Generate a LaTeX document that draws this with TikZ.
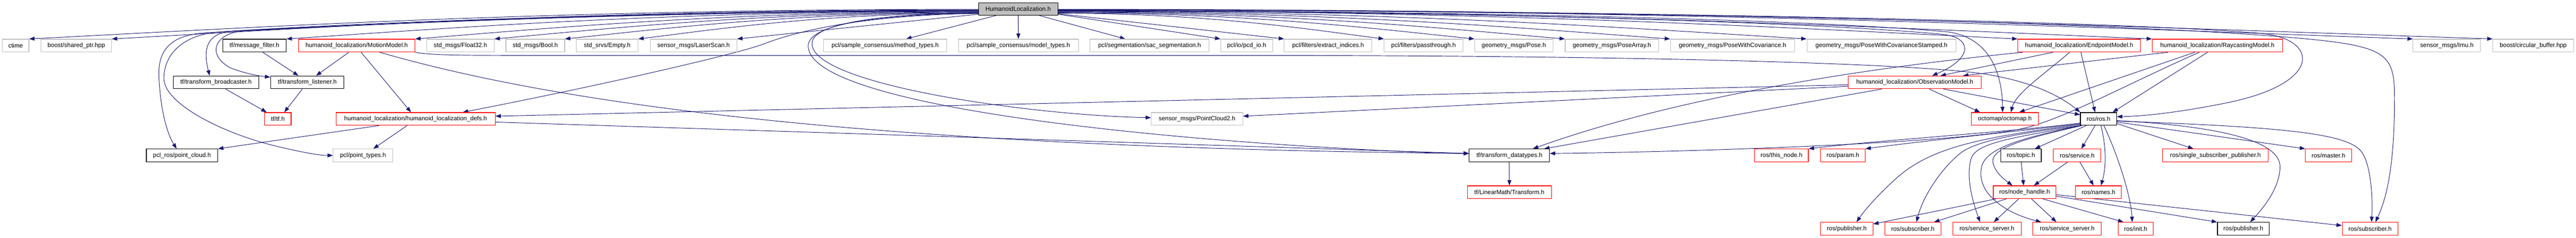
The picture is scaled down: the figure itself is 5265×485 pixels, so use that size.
\documentclass[tikz,border=0pt]{standalone}
\usepackage{fontspec}
\setmainfont{Liberation Sans}
\usetikzlibrary{arrows.meta}
\pgfdeclarelayer{background}
\pgfsetlayers{background,main}
\definecolor{edgeblue}{HTML}{191970}
\definecolor{greyb}{HTML}{BFBFBF}
\begin{document}
\begin{tikzpicture}[x=1pt,y=-1pt,
  box/.style={draw, rectangle, fill=white, minimum height=26pt, inner sep=0pt, line width=1.2pt, font=\fontsize{12.5}{15}\selectfont, text=black},
  gb/.style={box, draw=greyb},
  rb/.style={box, draw=red},
  kb/.style={box, draw=black},
  dep/.style={draw=edgeblue, line width=1pt, -{Triangle[length=11pt,width=8pt]}},
]
\useasboundingbox (0,0) rectangle (5265,485);
% ---------- nodes ----------
\node[kb, fill=greyb, minimum width=162pt, minimum height=25pt] (H) at (2081,18.5) {HumanoidLocalization.h};
% row 1
\node[gb, minimum width=54pt] (ctime) at (32,93) {ctime};
\node[gb, minimum width=144pt] (sharedptr) at (156,93) {boost/shared\_ptr.hpp};
\node[kb, minimum width=130pt] (msgfilter) at (520,93) {tf/message\_filter.h};
\node[rb, minimum width=238pt] (motion) at (729,93) {humanoid\_localization/MotionModel.h};
\node[gb, minimum width=138pt] (float32) at (941,93) {std\_msgs/Float32.h};
\node[gb, minimum width=120pt] (bool) at (1094,93) {std\_msgs/Bool.h};
\node[gb, minimum width=126pt] (empty) at (1241,93) {std\_srvs/Empty.h};
\node[gb, minimum width=177pt] (laserscan) at (1417.5,93) {sensor\_msgs/LaserScan.h};
\node[gb, minimum width=252pt] (method) at (1809,93) {pcl/sample\_consensus/method\_types.h};
\node[gb, minimum width=245pt] (model) at (2081.5,93) {pcl/sample\_consensus/model\_types.h};
\node[gb, minimum width=243pt] (sac) at (2349.5,93) {pcl/segmentation/sac\_segmentation.h};
\node[gb, minimum width=106pt] (pcdio) at (2548,93) {pcl/io/pcd\_io.h};
\node[gb, minimum width=179pt] (extract) at (2714.5,93) {pcl/filters/extract\_indices.h};
\node[gb, minimum width=161pt] (passthrough) at (2909.5,93) {pcl/filters/passthrough.h};
\node[gb, minimum width=160pt] (pose) at (3094,93) {geometry\_msgs/Pose.h};
\node[gb, minimum width=191pt] (posearray) at (3294.5,93) {geometry\_msgs/PoseArray.h};
\node[gb, minimum width=254pt] (posecov) at (3541,93) {geometry\_msgs/PoseWithCovariance.h};
\node[gb, minimum width=305pt] (posecovst) at (3845.5,93) {geometry\_msgs/PoseWithCovarianceStamped.h};
\node[rb, minimum width=251pt] (endpoint) at (4249.5,93) {humanoid\_localization/EndpointModel.h};
\node[rb, minimum width=266pt] (raycast) at (4532,93) {humanoid\_localization/RaycastingModel.h};
\node[gb, minimum width=138pt] (imu) at (5001,93) {sensor\_msgs/Imu.h};
\node[gb, minimum width=165pt] (circbuf) at (5177.5,93) {boost/circular\_buffer.hpp};
% row 2
\node[kb, minimum width=175pt] (broadcaster) at (441.5,168) {tf/transform\_broadcaster.h};
\node[kb, minimum width=150pt] (listener) at (628,168) {tf/transform\_listener.h};
\node[rb, minimum width=271pt] (obs) at (3913.5,168) {humanoid\_localization/ObservationModel.h};
% row 3
\node[rb, minimum width=54pt] (tf) at (568,242.5) {tf/tf.h};
\node[rb, minimum width=325pt] (defs) at (849.5,242.5) {humanoid\_localization/humanoid\_localization\_defs.h};
\node[gb, minimum width=187pt] (pc2) at (2446.5,242.5) {sensor\_msgs/PointCloud2.h};
\node[rb, minimum width=137pt] (octomap) at (4097.5,242.5) {octomap/octomap.h};
\node[kb, minimum width=74pt] (ros) at (4289,242.5) {ros/ros.h};
% row 4
\node[kb, minimum width=146pt] (pclros) at (372,317) {pcl\_ros/point\_cloud.h};
\node[gb, minimum width=122pt] (pointtypes) at (742,317) {pcl/point\_types.h};
\node[kb, minimum width=164pt] (datatypes) at (3085,317) {tf/transform\_datatypes.h};
\node[rb, minimum width=110pt] (thisnode) at (3641,317) {ros/this\_node.h};
\node[rb, minimum width=91pt] (param) at (3766.5,317) {ros/param.h};
\node[kb, minimum width=83pt] (topic) at (4130.5,317) {ros/topic.h};
\node[rb, minimum width=97pt] (service) at (4245.5,317) {ros/service.h};
\node[rb, minimum width=216pt] (ssp) at (4528,317) {ros/single\_subscriber\_publisher.h};
\node[rb, minimum width=94pt] (master) at (4759,317) {ros/master.h};
% row 5
\node[rb, minimum width=172pt] (transform) at (3085,392) {tf/LinearMath/Transform.h};
\node[rb, minimum width=128pt] (nh) at (4138,392) {ros/node\_handle.h};
\node[rb, minimum width=94pt] (names) at (4289,392) {ros/names.h};
% row 6
\node[rb, minimum width=107pt] (pubL) at (3774.5,466.5) {ros/publisher.h};
\node[rb, minimum width=115pt] (subL) at (3909.5,466.5) {ros/subscriber.h};
\node[rb, minimum width=140pt] (ss1) at (4061,466.5) {ros/service\_server.h};
\node[rb, minimum width=140pt] (ss2) at (4225,466.5) {ros/service\_server.h};
\node[rb, minimum width=72pt] (init) at (4365,466.5) {ros/init.h};
\node[kb, minimum width=106pt] (pubR) at (4585,466.5) {ros/publisher.h};
\node[rb, minimum width=114pt] (subR) at (4844,466.5) {ros/subscriber.h};

\begin{pgfonlayer}{background}
\fill[white] (0,0) rectangle (5265,485);
% ---------- H to row 1 ----------
\draw[dep] ([yshift=-0.5pt]H.west) .. controls (1107,19) and (505,56.8) .. (ctime.north east);
\draw[dep] ([yshift=-1.5pt]H.west) .. controls (1185,20) and (636,57.2) .. (sharedptr.north east);
\draw[dep] ([yshift=-4.5pt]H.west) .. controls (1349,23) and (910,58.3) .. (msgfilter.north east);
\draw[dep] ([yshift=-5.5pt]H.west) .. controls (1470,24) and (1113,58.7) .. (motion.north east);
\draw[dep] ([yshift=-6.5pt]H.west) .. controls (1545,25) and (1238,59.1) .. (float32.north east);
\draw[dep] ([yshift=-7.5pt]H.west) .. controls (1611,26) and (1349,59.5) .. (bool.north east);
\draw[dep] ([yshift=-8.5pt]H.west) .. controls (1680,27) and (1464,59.9) .. (empty.north east);
\draw[dep] ([yshift=-10.5pt]H.west) -- (laserscan.north east);
\draw[dep] ([xshift=-45pt]H.south) -- ([xshift=43pt]method.north);
\draw[dep] (H.south) -- (model.north);
\draw[dep] ([xshift=43pt]H.south) -- ([xshift=-49.5pt]sac.north);
\draw[dep] ([yshift=-10.5pt]H.east) -- (pcdio.north west);
\draw[dep] ([yshift=-9.5pt]H.east) -- (extract.north west);
\draw[dep] ([yshift=-8.5pt]H.east) .. controls (2469,27) and (2676,59.9) .. (passthrough.north west);
\draw[dep] ([yshift=-7.5pt]H.east) .. controls (2554,26) and (2818,59.5) .. (pose.north west);
\draw[dep] ([yshift=-6.5pt]H.east) .. controls (2639,25) and (2960,59.1) .. (posearray.north west);
\draw[dep] ([yshift=-5.5pt]H.east) .. controls (2738,24) and (3126,58.7) .. (posecov.north west);
\draw[dep] ([yshift=-4.5pt]H.east) .. controls (2866,23) and (3341,58.3) .. (posecovst.north west);
\draw[dep] ([yshift=-3.5pt]H.east) .. controls (3065,22) and (3673,58) .. (endpoint.north west);
\draw[dep] ([yshift=-3pt]H.east) .. controls (3191,21.5) and (3884,57.8) .. (raycast.north west);
\draw[dep] ([yshift=-1pt]H.east) .. controls (3436,19.5) and (4295,57) .. (imu.north west);
\draw[dep] ([yshift=-0.5pt]H.east) .. controls (3511,19) and (4420,56.8) .. (circbuf.north west);
% ---------- H long curves, left ----------
\draw[dep] ([yshift=-3.5pt]H.west) .. controls (1400,22) and (800,47) .. (480,63) .. controls (430,65.5) and (412,90) .. ([xshift=-13pt]broadcaster.north);
\draw[dep] ([yshift=-4pt]H.west) .. controls (1400,22.5) and (820,46) .. (500,63) .. controls (440,66.2) and (420,110) .. (470,138) .. controls (500,150) and (530,155) .. ([yshift=-3pt]listener.north west);
\draw[dep] ([yshift=-2.5pt]H.west) .. controls (1400,21) and (700,50) .. (420,67) .. controls (340,72) and (322,110) .. (325,160) .. controls (328,220) and (340,270) .. ([xshift=-11pt]pclros.north);
\draw[dep] ([yshift=-3pt]H.west) .. controls (1400,21.5) and (750,45) .. (450,65) .. controls (375,70) and (335,110) .. (335,160) .. controls (335,210) and (450,270) .. (560,297) .. controls (610,309) and (650,317) .. (pointtypes.west);
\draw[dep] ([yshift=-9pt]H.west) .. controls (1800,30) and (1650,55) .. (1560,90) .. controls (1515,107.5) and (1250,170) .. ([xshift=96.5pt]defs.north);
\draw[dep] ([yshift=-7.5pt]H.west) .. controls (1850,28) and (1670,40) .. (1660,85) .. controls (1645,170) and (2100,235) .. ([yshift=2.5pt]pc2.west);
\draw[dep] ([yshift=-8pt]H.west) .. controls (1840,29) and (1662,42) .. (1652,90) .. controls (1640,200) and (2200,270) .. (2700,300) .. controls (2850,309) and (2950,313) .. ([yshift=4pt]datatypes.west);
% ---------- H long curves, right ----------
\draw[dep] ([yshift=-4pt]H.east) .. controls (3000,22.5) and (3720,46) .. (3970,70) .. controls (4030,75.8) and (4035,118) .. ([xshift=35.5pt]obs.north);
\draw[dep] ([yshift=-3.5pt]H.east) .. controls (3000,22) and (3700,40) .. (3980,65) .. controls (4060,75) and (4092,140) .. ([xshift=-4.5pt]octomap.north);
\draw[dep] ([yshift=-1.5pt]H.east) .. controls (3200,20) and (4320,42) .. (4620,68) .. controls (4740,78.4) and (4750,170) .. (4550,210) .. controls (4450,230) and (4380,237) .. ([yshift=4.5pt]ros.east);
\draw[dep] ([yshift=-2pt]H.east) .. controls (3200,20.5) and (4300,42) .. (4700,78) .. controls (4880,94.2) and (4894,110) .. (4894,200) .. controls (4894,330) and (4880,400) .. ([xshift=11pt]subR.north);
% ---------- left cluster ----------
\draw[dep] ([xshift=17pt]msgfilter.south) -- ([xshift=-18pt]listener.north);
\draw[dep] ([xshift=-16pt]motion.south) -- ([xshift=18pt]listener.north);
\draw[dep] ([xshift=9pt]motion.south) -- ([xshift=-9.5pt]defs.north);
\draw[dep] ([xshift=47pt]motion.south) .. controls (1100,200) and (1700,300) .. ([yshift=4pt]datatypes.west);
\draw[dep] (motion.south east) .. controls (880,113) and (950,113) .. (1100,113) -- (2600,113) .. controls (3400,114) and (3900,130) .. (4050,150) .. controls (4150,165) and (4210,195) .. (ros.north west);
\draw[dep] ([xshift=19.5pt]broadcaster.south) -- ([xshift=-23pt]tf.north);
\draw[dep] ([xshift=-10pt]listener.south) -- ([xshift=13pt]tf.north);
\draw[dep] ([xshift=-74.5pt]defs.south) -- (pclros.north east);
\draw[dep] ([xshift=-17.5pt]defs.south) -- ([xshift=21pt]pointtypes.north);
\draw[dep] ([yshift=-6.5pt]defs.east) -- ([yshift=4pt]datatypes.west);
\draw[dep] (datatypes.south) -- (transform.north);
% ---------- observation / endpoint / raycasting ----------
\draw[dep] ([yshift=-5pt]obs.west) -- ([yshift=5.5pt]defs.east);
\draw[dep] ([yshift=-8pt]obs.west) -- ([yshift=5.5pt]pc2.east);
\draw[dep] ([xshift=-67.5pt]obs.south) -- ([xshift=71pt]datatypes.north);
\draw[dep] ([xshift=29.5pt]obs.south) -- ([xshift=-50.5pt]octomap.north);
\draw[dep] ([xshift=58.5pt]obs.south) -- ([yshift=8.5pt]ros.west);
\draw[dep] ([xshift=-53.5pt]endpoint.south) -- ([xshift=52.5pt]obs.north);
\draw[dep] ([xshift=-19.5pt]endpoint.south) .. controls (4180,150) and (4120,190) .. ([xshift=12.5pt]octomap.north);
\draw[dep] ([xshift=3.5pt]endpoint.south) -- ([xshift=-7pt]ros.north);
\draw[dep] ([xshift=-115.5pt]endpoint.south) .. controls (3850,135) and (3450,190) .. ([xshift=48pt]datatypes.north);
\draw[dep] ([xshift=-101pt]raycast.south) -- ([xshift=98.5pt]obs.north);
\draw[dep] ([xshift=-46pt]raycast.south) -- ([xshift=29.5pt]octomap.north);
\draw[dep] ([xshift=-37pt]raycast.south) .. controls (4340,175) and (4215,245) .. (4130,263) .. controls (3990,292.6) and (3450,310) .. ([yshift=4pt]datatypes.east);
\draw[dep] ([xshift=-20pt]raycast.south) -- ([xshift=29pt]ros.north);
% ---------- ros/ros.h ----------
\draw[dep] ([yshift=-8.5pt]ros.west) .. controls (4100,270) and (3850,285) .. (thisnode.north east);
\draw[dep] ([yshift=-10pt]ros.west) .. controls (4150,265) and (3950,285) .. (param.north east);
\draw[dep] ([yshift=-11.5pt]ros.west) .. controls (4050,280) and (3950,300) .. (3880,360) .. controls (3840,395) and (3810,430) .. ([xshift=20pt]pubL.north);
\draw[dep] (ros.south west) .. controls (4100,275) and (4040,290) .. (4010,310) .. controls (3970,340) and (3930,400) .. ([xshift=7.5pt]subL.north);
\draw[dep] ([xshift=1pt]ros.south west) .. controls (4120,280) and (4045,290) .. (4030,320) .. controls (4015,360) and (4035,420) .. ([xshift=-14pt]ss1.north);
\draw[dep] ([xshift=2pt]ros.south west) .. controls (4140,280) and (4060,300) .. (4050,340) .. controls (4038,395) and (4100,435) .. ([xshift=-53pt]ss2.north);
\draw[dep] ([xshift=4pt]ros.south west) .. controls (4150,280) and (4070,300) .. (4073,330) .. controls (4076,350) and (4095,365) .. ([xshift=-25pt]nh.north);
\draw[dep] ([xshift=-25pt]ros.south) -- ([xshift=28.5pt]topic.north);
\draw[dep] ([xshift=-7pt]ros.south) -- ([xshift=8.5pt]service.north);
\draw[dep] ([xshift=5pt]ros.south) .. controls (4305,300) and (4305,340) .. ([xshift=5pt]names.north);
\draw[dep] ([xshift=11pt]ros.south) .. controls (4330,320) and (4355,400) .. ([xshift=-7pt]init.north);
\draw[dep] ([yshift=-9.5pt]ros.east) -- ([xshift=-45pt]ssp.north);
\draw[dep] ([yshift=-6.5pt]ros.east) -- (master.north west);
\draw[dep] ([yshift=-3.5pt]ros.east) .. controls (4550,258) and (4660,290) .. (4660,340) .. controls (4660,380) and (4630,420) .. ([xshift=14pt]pubR.north);
\draw[dep] ([yshift=-4.5pt]ros.east) .. controls (4700,260) and (4810,275) .. (4830,315) .. controls (4845,341) and (4850,400) .. ([xshift=3pt]subR.north);
% ---------- topic / service / node_handle ----------
\draw[dep] ([xshift=0.5pt]topic.south) -- ([xshift=-2pt]nh.north);
\draw[dep] ([xshift=-19.5pt]service.south) -- ([xshift=19pt]nh.north);
\draw[dep] ([xshift=5.5pt]service.south) -- ([xshift=-10pt]names.north);
\draw[dep] ([xshift=-58pt]nh.south) -- ([yshift=-4pt]pubL.north east);
\draw[dep] ([xshift=-37pt]nh.south) -- ([xshift=43.5pt]subL.north);
\draw[dep] ([xshift=-12pt]nh.south) -- ([xshift=14pt]ss1.north);
\draw[dep] ([xshift=14pt]nh.south) -- ([xshift=-22pt]ss2.north);
\draw[dep] ([xshift=37pt]nh.south) -- ([xshift=-25pt]init.north);
\draw[dep] ([yshift=-8pt]nh.east) -- (pubR.north west);
\draw[dep] ([yshift=-5pt]nh.east) -- ([yshift=6.5pt]subR.west);
\end{pgfonlayer}
\end{tikzpicture}
\end{document}
